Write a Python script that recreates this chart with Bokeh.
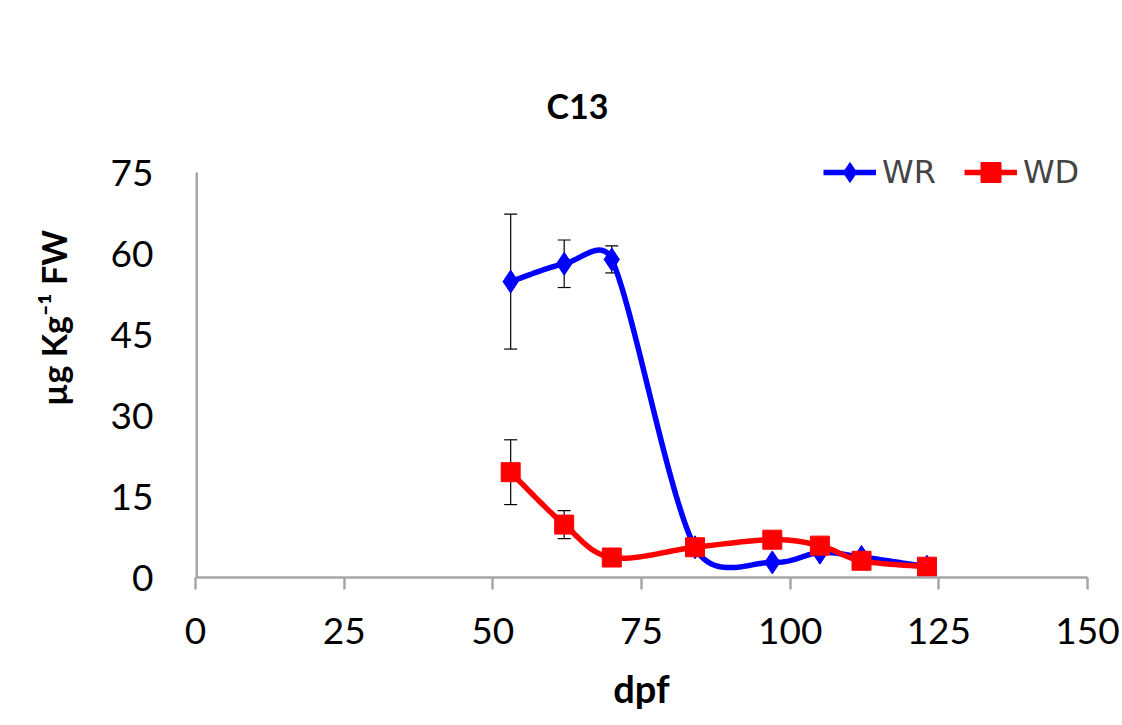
import math
import numpy as np
from bokeh.plotting import figure
from bokeh.models import (Range1d, Whisker, TeeHead, ColumnDataSource, Legend,
                          LegendItem, Label, FixedTicker)
from bokeh.embed import file_html
from bokeh.resources import INLINE

# ---------------- data ----------------
dpf = [53, 62, 70, 84, 97, 105, 112, 123]
wr = [54.8, 58.1, 58.9, 5.6, 2.8, 4.6, 3.8, 2.0]
wd = [19.5, 9.8, 3.7, 5.6, 7.0, 5.9, 3.1, 2.0]
wr_err = [12.5, 4.4, 2.5, 0, 0, 0, 0, 0]
wd_err = [6.0, 2.6, 0, 0, 0, 0, 0, 0]
x_ticks = [0, 25, 50, 75, 100, 125, 150]
y_ticks = [0, 15, 30, 45, 60, 75]
title_text = "C13"
y_label = "µg Kg⁻¹ FW"
x_label = "dpf"
series_names = ["WR", "WD"]

# ---------------- layout ----------------
W, H = 1122, 725
LEFT, RIGHT, BOTTOM = 195, 35, 148
AXIS_TOP_PX = 172          # canvas y of the value 75
TOP = 58                   # frame extends above the axis to host title/legend
FRAME_W = W - LEFT - RIGHT
X0, X1, Y0, Y1 = 0, 150, 0, 75
SX = FRAME_W / (X1 - X0)
SY = (H - BOTTOM - AXIS_TOP_PX) / (Y1 - Y0)
Y_END = (H - BOTTOM - TOP) / SY

FONT = "Lato"


def smooth(xs, ys, n=40):
    """Excel-style smoothed line: cubic Bezier segments computed in pixel space."""
    P = [(x * SX, y * SY) for x, y in zip(xs, ys)]
    N = len(P)

    def d(a, b):
        return math.hypot(a[0] - b[0], a[1] - b[1])

    ox, oy = [], []
    for i in range(N - 1):
        p0 = P[i - 1] if i > 0 else P[i]
        p1, p2 = P[i], P[i + 1]
        p3 = P[i + 2] if i + 2 < N else P[i + 1]
        d12, d02, d13 = d(p1, p2), d(p0, p2), d(p1, p3)
        f1 = 1 / 6
        f2 = 1 / 6
        if d02 > 0 and d02 / 6 >= d12 / 2:
            f1 = d12 / d02 / 2
        if d13 > 0 and d13 / 6 >= d12 / 2:
            f2 = d12 / d13 / 2
        c1 = (p1[0] + (p2[0] - p0[0]) * f1, p1[1] + (p2[1] - p0[1]) * f1)
        c2 = (p2[0] - (p3[0] - p1[0]) * f2, p2[1] - (p3[1] - p1[1]) * f2)
        ts = np.linspace(0, 1, n, endpoint=(i == N - 2))
        for t in ts:
            a = (1 - t) ** 3
            b = 3 * (1 - t) ** 2 * t
            c = 3 * (1 - t) * t ** 2
            e = t ** 3
            ox.append((a * p1[0] + b * c1[0] + c * c2[0] + e * p2[0]) / SX)
            oy.append((a * p1[1] + b * c1[1] + c * c2[1] + e * p2[1]) / SY)
    return ox, oy


p = figure(width=W, height=H, output_backend="svg", toolbar_location=None,
           x_range=Range1d(X0, X1), y_range=Range1d(Y0, Y_END),
           min_border_left=LEFT, min_border_right=RIGHT,
           min_border_top=TOP, min_border_bottom=BOTTOM)
p.outline_line_color = None
p.grid.visible = False
p.background_fill_color = "white"
p.border_fill_color = "white"

AX_COLOR = "#a6a6a6"
for ax in (p.xaxis[0], p.yaxis[0]):
    ax.axis_line_color = AX_COLOR
    ax.axis_line_width = 2.5
    ax.major_tick_line_color = AX_COLOR
    ax.major_tick_line_width = 2.5
    ax.minor_tick_line_color = None
    ax.major_label_text_font = FONT
    ax.major_label_text_font_size = "37px"
    ax.major_label_text_color = "black"

p.xaxis.ticker = FixedTicker(ticks=x_ticks)
p.yaxis.ticker = FixedTicker(ticks=y_ticks)
p.xaxis.major_tick_out = 12
p.xaxis.major_tick_in = 0
p.xaxis.major_label_standoff = 28
p.yaxis.major_tick_out = 0
p.yaxis.major_tick_in = 0
p.yaxis.major_label_standoff = 42
p.yaxis.axis_line_color = None   # drawn below only up to 75

p.xaxis.axis_label = x_label
p.xaxis.axis_label_text_font = FONT
p.xaxis.axis_label_text_font_style = "bold"
p.xaxis.axis_label_text_font_size = "38px"
p.xaxis.axis_label_standoff = 18
p.xaxis.axis_label_text_color = "black"

p.yaxis.axis_label = y_label
p.yaxis.axis_label_text_font = FONT
p.yaxis.axis_label_text_font_style = "bold"
p.yaxis.axis_label_text_font_size = "34px"
p.yaxis.axis_label_standoff = 34
p.yaxis.axis_label_text_color = "black"

# y axis line from 0 to 75 only
p.segment(x0=[X0], y0=[Y0], x1=[X0], y1=[Y1], line_color=AX_COLOR, line_width=5)

# error bars
src_wr = ColumnDataSource(dict(x=dpf, y=wr))
src_wd = ColumnDataSource(dict(x=dpf, y=wd))
for vals, err in ((wr, wr_err), (wd, wd_err)):
    idx = [i for i, e in enumerate(err) if e > 0]
    s = ColumnDataSource(dict(x=[dpf[i] for i in idx],
                              up=[vals[i] + err[i] for i in idx],
                              lo=[vals[i] - err[i] for i in idx]))
    wh = Whisker(source=s, base="x", upper="up", lower="lo", dimension="height",
                 line_color="black", line_width=1.2,
                 upper_head=TeeHead(size=13, line_color="black", line_width=1.2),
                 lower_head=TeeHead(size=13, line_color="black", line_width=1.2),
                 level="underlay")
    p.add_layout(wh)

# WR series
wx, wy = smooth(dpf, wr)
l_wr = p.line(wx, wy, line_color="#0000FF", line_width=5.5)
m_wr = p.scatter("x", "y", source=src_wr, marker="diamond", size=23,
                 fill_color="#0000FF", line_color="#0000FF")

# WD series
dx, dy = smooth(dpf, wd)
l_wd = p.line(dx, dy, line_color="#FF0000", line_width=5.5)
m_wd = p.scatter("x", "y", source=src_wd, marker="square", size=19,
                 fill_color="#FF0000", line_color="#FF0000")

legend = Legend(items=[LegendItem(label=series_names[0], renderers=[l_wr, m_wr]),
                       LegendItem(label=series_names[1], renderers=[l_wd, m_wd])],
                orientation="horizontal", location=(628, 380),
                label_text_font="DejaVu Sans", label_text_font_size="32px",
                glyph_width=53, glyph_height=50, label_standoff=6, spacing=28,
                padding=0, margin=0, border_line_color=None,
                background_fill_alpha=0)
p.add_layout(legend)

# title
p.add_layout(Label(x=(577 - LEFT) / SX, y=(H - BOTTOM - 105) / SY, text=title_text,
                   text_font=FONT, text_font_style="bold", text_font_size="34px",
                   text_align="center", text_baseline="middle", text_color="black"))

open("out.html", "w").write(file_html(p, INLINE))
